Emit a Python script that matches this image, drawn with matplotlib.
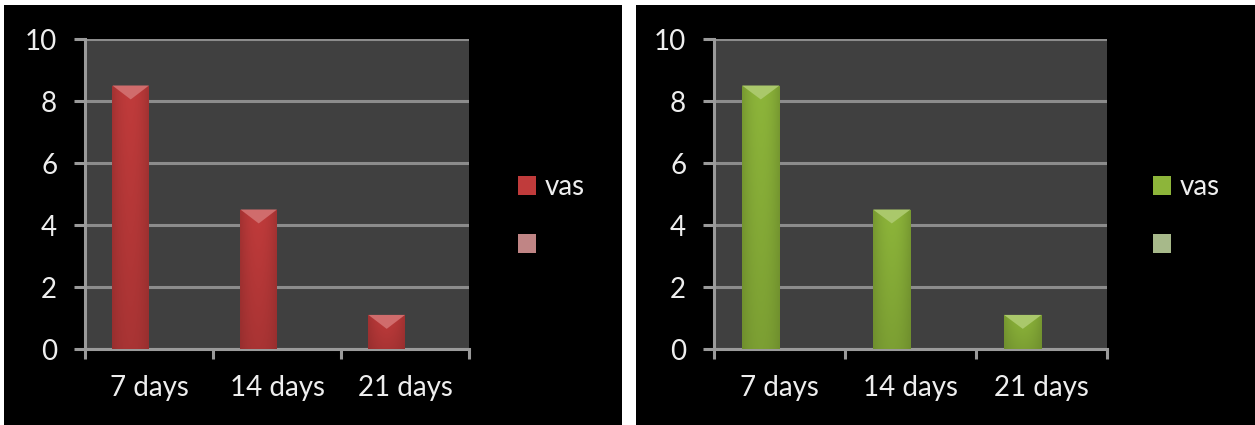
import numpy as np
import matplotlib
matplotlib.use("Agg")
import matplotlib.pyplot as plt
from matplotlib.patches import Rectangle, Polygon

plt.rcParams['font.family'] = ['Lato', 'DejaVu Sans']

categories = ['7 days', '14 days', '21 days']
vas = [8.5, 4.5, 1.1]
yticks = [0, 2, 4, 6, 8, 10]
series_names = ['vas', '']

W, H = 1255, 425
fig = plt.figure(figsize=(W / 100, H / 100), dpi=100, facecolor='white')

# black backgrounds of the two slides (drawn below the axes)
fig.patches.append(Rectangle((4 / W, 0), 618 / W, 420 / H, transform=fig.transFigure,
                             facecolor='black', edgecolor='none', zorder=-5))
fig.patches.append(Rectangle((636 / W, 0), 619 / W, 420 / H, transform=fig.transFigure,
                             facecolor='black', edgecolor='none', zorder=-5))


def shade(c, f):
    c = np.array(matplotlib.colors.to_rgb(c))
    if f >= 0:
        return tuple(c + (1 - c) * f)
    return tuple(c * (1 + f))


def draw_panel(rect, main, legend2, leg_x):
    ax = fig.add_axes(rect)
    ax.set_facecolor('#404040')
    x = np.arange(len(categories))
    w = 1 / 3.5
    bars = ax.bar(x - w / 2, vas, width=w, color=main, edgecolor='none', zorder=3)
    for b in bars:
        x0, x1 = b.get_x(), b.get_x() + b.get_width()
        top = b.get_height()
        # horizontal + vertical shading
        nx, ny = 40, 60
        hx = 1 - np.abs(np.linspace(-1, 1, nx)) ** 2
        vy = np.linspace(0, 1, ny)[:, None]
        base = np.array(matplotlib.colors.to_rgb(main))
        dark = np.array(shade(main, -0.3))
        t = (0.5 + 0.5 * hx[None, :]) * (0.6 + 0.4 * vy)
        img = dark[None, None, :] + (base - dark)[None, None, :] * t[:, :, None]
        im = ax.imshow(np.clip(img, 0, 1), extent=(x0, x1, 0, top), origin='lower',
                       aspect='auto', zorder=4)
        im.set_clip_path(b)
        d = 0.45
        cap = Polygon([(x0, top), (x1, top), ((x0 + x1) / 2, top - d)],
                      closed=True, facecolor=shade(main, 0.25), edgecolor='none', zorder=5)
        ax.add_patch(cap)
    ax.set_xlim(-0.5, len(categories) - 0.5)
    ax.set_ylim(0, 10)
    ax.set_yticks(yticks)
    ax.set_xticks(np.arange(len(categories) + 1) - 0.5)
    ax.set_xticklabels([])
    ax.set_xticks(x, minor=True)
    ax.set_xticklabels(categories, minor=True)
    ax.tick_params(axis='x', which='minor', length=0, pad=19, labelsize=20, labelcolor='#eeeeee')
    ax.tick_params(axis='x', which='major', length=7, width=2.2, color='#9a9a9a')
    ax.tick_params(axis='y', length=8, width=2.2, color='#9a9a9a', pad=12,
                   labelsize=20, labelcolor='#eeeeee')
    ax.grid(axis='y', color='#8c8c8c', linewidth=2.2, zorder=1)
    ax.set_axisbelow(True)
    for s in ['top', 'right']:
        ax.spines[s].set_visible(False)
    for s in ['left', 'bottom']:
        ax.spines[s].set_color('#9a9a9a')
        ax.spines[s].set_linewidth(2.2)
    handles = [Rectangle((0, 0), 1, 1, facecolor=main, edgecolor='none'),
               Rectangle((0, 0), 1, 1, facecolor=legend2, edgecolor='none')]
    ax.legend(handles, series_names, loc='upper left', bbox_to_anchor=(leg_x / W, 1 - 174 / H),
              bbox_transform=fig.transFigure, frameon=False, fontsize=20,
              labelcolor='#eeeeee', handlelength=0.66, handleheight=0.66,
              handletextpad=0.3, labelspacing=1.15, borderaxespad=0, borderpad=0)
    return ax


draw_panel([85 / W, 76 / H, 384 / W, 310 / H], '#c03b3b', '#c08585', 518)
draw_panel([714 / W, 76 / H, 393 / W, 310 / H], '#8db53a', '#a7b98a', 1153)

fig.savefig('out.png', dpi=100, facecolor='white')
